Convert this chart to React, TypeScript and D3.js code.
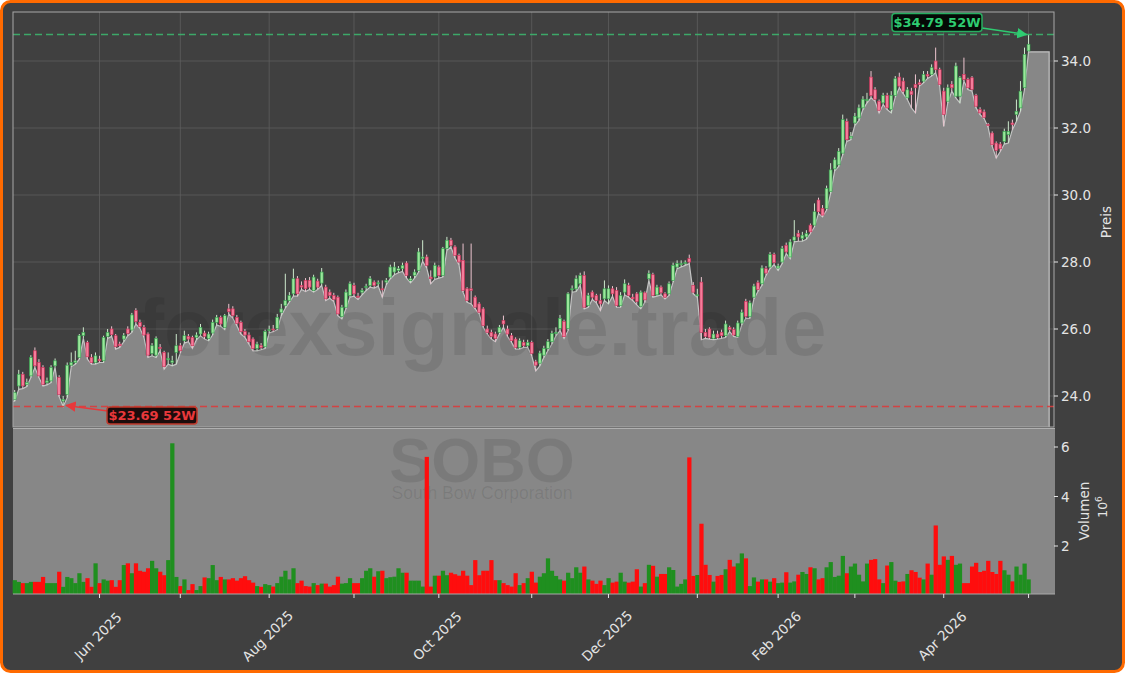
import React from 'react';
import * as d3 from 'd3';

// ---- data (trading-day index 0 = 1 May 2025) ----
const opens = [
  23.90, 24.30, 24.65, 24.35, 24.60, 25.35, 25.00, 24.85, 24.40, 24.45,
  24.90, 24.55, 23.85, 24.05, 24.92, 25.00, 25.15, 25.80, 25.60, 25.15,
  25.00, 25.10, 25.05, 25.78, 26.00, 25.80, 25.55, 25.70, 26.00, 25.97,
  26.55, 26.20, 26.05, 25.85, 25.27, 25.22, 25.45, 25.30, 25.08, 25.00,
  25.30, 25.50, 25.65, 25.78, 25.75, 25.75, 25.85, 25.88, 25.72, 25.88,
  26.20, 26.35, 26.05, 26.60, 26.60, 26.35, 26.20, 25.92, 25.82, 25.70,
  25.42, 25.50, 25.47, 25.95, 26.00, 26.02, 26.50, 26.70, 26.85, 27.05,
  27.50, 27.30, 27.45, 27.45, 27.15, 27.43, 27.37, 27.25, 27.10, 27.00,
  26.95, 26.37, 26.65, 27.00, 27.30, 26.98, 27.10, 27.25, 27.30, 27.40,
  27.35, 27.20, 27.40, 27.55, 27.70, 27.75, 27.80, 27.97, 27.45, 27.60,
  27.75, 28.10, 28.15, 27.55, 27.55, 27.85, 27.60, 28.40, 28.65, 28.45,
  28.20, 28.05, 27.20, 27.20, 26.95, 26.75, 26.60, 26.00, 25.90, 25.85,
  25.90, 26.25, 26.00, 25.80, 25.70, 25.45, 25.60, 25.50, 25.60, 25.02,
  24.98, 25.22, 25.42, 25.62, 25.88, 26.02, 26.22, 26.02, 27.18, 27.20,
  27.35, 27.60, 26.70, 27.10, 27.00, 26.85, 26.90, 26.90, 27.20, 27.15,
  26.70, 27.10, 27.30, 26.95, 27.05, 26.68, 27.08, 27.50, 27.62, 27.02,
  27.25, 27.05, 27.05, 27.45, 27.85, 27.92, 27.95, 28.10, 27.30, 27.00,
  27.40, 25.90, 26.00, 25.72, 25.85, 25.90, 25.80, 26.05, 25.98, 25.78,
  26.18, 26.82, 26.38, 26.95, 27.38, 27.35, 27.80, 27.85, 28.22, 27.82,
  28.00, 28.50, 28.15, 28.65, 28.85, 28.70, 28.75, 29.10, 29.10, 29.85,
  29.60, 29.60, 30.10, 30.78, 30.90, 31.25, 32.20, 31.70, 32.15, 32.30,
  32.60, 32.83, 33.52, 33.14, 32.80, 32.75, 32.97, 32.55, 32.97, 33.52,
  33.40, 32.90, 33.10, 33.30, 33.35, 33.40, 33.60, 33.60, 34.00, 33.74,
  33.10, 32.80, 33.30, 32.95, 32.95, 33.60, 33.45, 33.50, 32.97, 32.55,
  32.48, 32.10, 31.85, 31.55, 31.52, 31.60, 31.80, 32.15, 32.40, 32.60,
  33.20, 34.30,
];
const closes = [
  24.10, 24.65, 24.30, 24.40, 25.15, 24.90, 24.60, 24.35, 24.45, 24.85,
  25.05, 24.05, 23.90, 24.92, 25.00, 25.05, 25.80, 25.90, 25.17, 25.00,
  25.20, 25.05, 25.75, 25.90, 25.83, 25.47, 25.50, 25.80, 25.87, 26.42,
  26.22, 26.08, 25.82, 25.22, 25.50, 25.72, 25.42, 24.88, 25.12, 25.05,
  25.50, 25.35, 25.80, 25.70, 25.50, 25.82, 26.05, 25.78, 25.85, 26.20,
  26.35, 26.15, 26.40, 26.52, 26.40, 26.17, 25.92, 25.82, 25.62, 25.42,
  25.55, 25.45, 25.92, 25.98, 25.98, 26.35, 26.60, 26.85, 27.00, 27.50,
  27.05, 27.25, 27.20, 27.25, 27.55, 27.25, 27.70, 26.90, 27.00, 26.88,
  26.45, 26.65, 27.10, 27.35, 27.05, 26.95, 27.15, 27.27, 27.50, 27.30,
  27.38, 27.18, 27.45, 27.85, 27.85, 27.80, 27.90, 27.60, 27.50, 27.70,
  28.30, 28.15, 27.90, 27.50, 27.90, 27.60, 28.40, 28.65, 28.50, 28.20,
  28.00, 27.15, 26.85, 27.15, 26.65, 26.50, 26.10, 25.90, 25.78, 25.72,
  26.05, 26.15, 25.85, 25.65, 25.45, 25.65, 25.50, 25.60, 25.27, 24.92,
  25.28, 25.42, 25.62, 25.87, 25.90, 26.32, 25.77, 27.05, 27.20, 27.50,
  27.60, 26.65, 27.00, 26.95, 26.85, 26.75, 27.20, 27.20, 27.05, 26.70,
  27.00, 27.35, 27.00, 26.90, 26.82, 27.10, 26.87, 27.65, 27.00, 27.25,
  27.08, 26.95, 27.35, 27.90, 27.95, 27.95, 27.98, 28.00, 27.10, 27.02,
  25.90, 25.78, 25.75, 25.85, 25.75, 25.80, 26.15, 25.98, 25.82, 26.18,
  26.50, 26.38, 26.78, 27.28, 27.18, 27.82, 27.67, 28.22, 27.98, 27.88,
  28.40, 28.30, 28.60, 28.75, 28.75, 28.80, 28.85, 28.90, 29.50, 29.50,
  29.40, 30.20, 30.75, 31.05, 31.30, 32.25, 31.65, 31.75, 32.35, 32.60,
  32.86, 32.85, 32.97, 32.86, 32.53, 32.97, 32.60, 32.97, 33.47, 33.25,
  33.10, 33.14, 33.00, 33.20, 33.30, 33.60, 33.55, 33.80, 33.74, 33.30,
  32.40, 33.20, 33.20, 33.85, 33.50, 33.45, 33.20, 33.15, 32.65, 32.45,
  32.32, 32.08, 31.50, 31.33, 31.38, 31.90, 31.90, 32.10, 32.50, 33.10,
  34.20, 34.50,
];
const highs = [
  24.18, 24.78, 24.72, 24.52, 25.22, 25.45, 25.10, 24.92, 24.55, 24.92,
  25.12, 24.62, 24.00, 25.00, 25.30, 25.35, 25.85, 26.05, 25.65, 25.25,
  25.30, 25.20, 25.80, 26.00, 26.08, 25.85, 25.62, 25.88, 26.08, 26.48,
  26.62, 26.28, 26.12, 25.90, 25.58, 25.78, 25.55, 25.35, 25.30, 25.20,
  25.85, 25.58, 25.95, 25.85, 25.80, 25.90, 26.15, 25.95, 25.92, 26.28,
  26.42, 26.40, 26.45, 26.75, 26.68, 26.42, 26.25, 26.00, 25.90, 25.75,
  25.62, 25.58, 25.98, 26.10, 26.12, 26.45, 26.75, 27.65, 27.10, 27.80,
  27.58, 27.42, 27.52, 27.55, 27.62, 27.50, 27.82, 27.32, 27.18, 27.08,
  27.00, 26.72, 27.18, 27.42, 27.38, 27.08, 27.22, 27.35, 27.58, 27.45,
  27.45, 27.45, 27.52, 27.92, 28.00, 27.88, 27.98, 28.02, 27.58, 27.78,
  28.42, 28.65, 28.22, 27.75, 27.98, 27.90, 28.45, 28.75, 28.72, 28.50,
  28.25, 28.55, 27.25, 28.55, 27.00, 26.80, 26.65, 26.10, 25.98, 25.92,
  26.12, 26.40, 26.10, 25.88, 25.75, 25.72, 25.68, 25.68, 25.65, 25.08,
  25.35, 25.50, 25.70, 25.95, 26.05, 26.42, 26.28, 27.10, 27.30, 27.60,
  27.68, 27.72, 27.08, 27.15, 27.05, 27.05, 27.45, 27.30, 27.28, 27.25,
  27.10, 27.48, 27.38, 27.05, 27.10, 27.15, 27.12, 27.75, 27.68, 27.32,
  27.30, 27.10, 27.42, 27.98, 28.05, 28.05, 28.05, 28.22, 27.40, 27.20,
  27.55, 26.00, 26.05, 25.95, 25.95, 25.98, 26.25, 26.10, 26.05, 26.25,
  26.58, 26.90, 26.85, 27.35, 27.45, 27.90, 27.88, 28.30, 28.28, 27.95,
  28.48, 28.58, 28.68, 29.25, 28.95, 28.90, 28.95, 29.15, 29.75, 29.92,
  29.70, 30.28, 30.95, 31.12, 31.40, 32.40, 32.28, 31.88, 32.45, 32.70,
  32.95, 33.05, 33.70, 33.22, 32.85, 33.05, 33.05, 33.10, 33.55, 33.65,
  33.50, 33.22, 33.20, 33.60, 33.45, 33.70, 33.70, 33.90, 34.40, 33.80,
  33.20, 33.30, 33.40, 33.95, 33.55, 34.10, 33.50, 33.55, 33.02, 32.62,
  32.55, 32.15, 31.90, 31.60, 31.58, 31.98, 32.20, 32.25, 32.85, 33.40,
  34.40, 34.79,
];
const lows = [
  23.85, 24.20, 24.22, 24.28, 24.55, 24.85, 24.55, 24.30, 24.33, 24.40,
  24.85, 23.98, 23.69, 23.95, 24.88, 24.95, 25.10, 25.72, 25.10, 24.95,
  24.95, 25.00, 25.00, 25.72, 25.78, 25.40, 25.45, 25.62, 25.80, 25.90,
  26.15, 26.02, 25.75, 25.15, 25.20, 25.15, 25.35, 24.80, 24.95, 24.90,
  24.95, 25.28, 25.58, 25.62, 25.42, 25.68, 25.80, 25.70, 25.65, 25.82,
  26.12, 26.08, 25.98, 26.45, 26.32, 26.10, 25.85, 25.75, 25.55, 25.35,
  25.35, 25.38, 25.42, 25.88, 25.92, 25.98, 26.40, 26.62, 26.80, 26.98,
  26.98, 27.18, 27.12, 27.18, 27.10, 27.18, 27.30, 26.85, 26.92, 26.82,
  26.40, 26.30, 26.60, 26.95, 26.98, 26.88, 27.02, 27.15, 27.25, 27.22,
  27.28, 26.95, 27.32, 27.50, 27.62, 27.68, 27.72, 27.52, 27.38, 27.52,
  27.70, 28.02, 27.82, 27.35, 27.48, 27.52, 27.55, 28.35, 28.45, 28.12,
  27.92, 27.10, 26.80, 26.75, 26.60, 26.45, 26.05, 25.85, 25.70, 25.62,
  25.85, 26.05, 25.78, 25.60, 25.40, 25.40, 25.45, 25.45, 25.20, 24.75,
  24.90, 25.15, 25.35, 25.55, 25.80, 25.95, 25.72, 25.95, 27.10, 27.12,
  27.30, 26.60, 26.65, 26.88, 26.78, 26.55, 26.85, 26.75, 26.98, 26.65,
  26.65, 27.02, 26.95, 26.85, 26.72, 26.60, 26.80, 27.45, 26.95, 26.98,
  27.02, 26.90, 27.00, 27.40, 27.80, 27.85, 27.90, 27.95, 27.05, 26.95,
  25.68, 25.72, 25.70, 25.68, 25.70, 25.72, 25.75, 25.92, 25.78, 25.75,
  26.12, 26.32, 26.32, 26.90, 27.12, 27.30, 27.60, 27.80, 27.92, 27.75,
  27.95, 28.25, 28.10, 28.60, 28.62, 28.62, 28.68, 28.85, 29.05, 29.45,
  29.35, 29.55, 30.05, 30.72, 30.85, 31.20, 31.60, 31.65, 32.08, 32.22,
  32.55, 32.75, 32.90, 32.80, 32.45, 32.70, 32.55, 32.45, 32.92, 33.20,
  33.02, 32.85, 32.60, 32.45, 33.25, 33.35, 33.48, 33.55, 33.65, 33.25,
  32.05, 32.75, 33.10, 32.90, 32.75, 33.40, 33.15, 33.10, 32.60, 32.40,
  32.28, 32.02, 31.45, 31.10, 31.30, 31.52, 31.55, 31.95, 32.20, 32.50,
  33.15, 34.27,
];
// volume in millions of shares
const volumes = [
  0.62, 0.55, 0.50, 0.50, 0.55, 0.55, 0.55, 0.75, 0.50, 0.50,
  0.50, 0.96, 0.35, 0.75, 0.70, 0.50, 0.90, 0.55, 0.70, 0.35,
  1.30, 0.50, 0.65, 0.60, 0.62, 0.35, 0.62, 1.23, 1.30, 0.90,
  1.30, 1.00, 0.96, 1.10, 1.40, 1.10, 0.96, 0.82, 1.43, 6.15,
  0.75, 0.38, 0.65, 0.22, 0.46, 0.22, 0.38, 0.73, 0.70, 1.23,
  0.62, 0.75, 0.65, 0.65, 0.70, 0.60, 0.70, 0.78, 0.62, 0.52,
  0.38, 0.35, 0.46, 0.42, 0.36, 0.50, 0.76, 1.00, 0.65, 1.10,
  0.50, 0.60, 0.38, 0.36, 0.50, 0.42, 0.48, 0.48, 0.36, 0.42,
  0.76, 0.48, 0.50, 0.70, 0.50, 0.50, 0.70, 1.00, 1.10, 0.76,
  0.98, 1.00, 0.70, 0.74, 0.76, 1.10, 0.92, 0.92, 0.60, 0.60,
  0.60, 0.36, 5.60, 0.36, 0.80, 0.80, 1.00, 0.82, 0.92, 0.86,
  0.80, 1.00, 0.80, 0.42, 1.43, 0.82, 1.00, 1.00, 1.43, 0.62,
  0.62, 0.50, 0.42, 0.36, 0.90, 0.42, 0.50, 0.70, 0.96, 0.52,
  0.76, 0.90, 1.50, 1.00, 0.79, 0.65, 0.60, 0.92, 0.70, 1.14,
  0.92, 1.17, 0.65, 0.60, 0.47, 0.60, 0.42, 0.70, 0.52, 0.56,
  0.92, 0.56, 0.52, 0.56, 1.06, 0.36, 0.50, 1.24, 1.20, 0.76,
  0.87, 0.87, 1.14, 1.03, 0.36, 0.47, 0.65, 5.58, 0.79, 0.83,
  2.90, 1.24, 0.83, 0.56, 0.79, 0.83, 1.06, 1.44, 1.17, 1.30,
  1.70, 1.50, 0.38, 0.73, 0.56, 0.65, 0.65, 0.56, 0.70, 0.50,
  0.52, 0.94, 0.52, 0.57, 0.84, 0.95, 0.87, 1.14, 1.10, 0.65,
  0.70, 1.14, 1.35, 0.75, 0.80, 1.60, 0.90, 1.17, 1.29, 0.84,
  0.57, 1.29, 1.44, 1.47, 0.65, 0.50, 1.21, 1.35, 0.60, 0.55,
  0.57, 0.87, 1.02, 0.95, 0.72, 0.65, 1.29, 0.84, 2.83, 1.24,
  1.58, 1.44, 1.60, 1.24, 1.29, 0.50, 0.50, 1.17, 1.32, 0.95,
  1.00, 1.40, 0.95, 0.87, 1.40, 1.02, 0.84, 0.57, 1.17, 0.84,
  1.29, 0.65,
];

const monthTickIdx = [21, 41, 63, 84, 105, 128, 147, 169, 189, 208, 230, 251];
const monthLabels = ['Jun 2025', '', 'Aug 2025', '', 'Oct 2025', '', 'Dec 2025', '', 'Feb 2026', '', 'Apr 2026', ''];
const priceTicks = [24, 26, 28, 30, 32, 34];
const volumeTicks = [2, 4, 6];
const high52 = 34.79;
const low52 = 23.69;
const high52Idx = 251;
const low52Idx = 12;
const ticker = 'SOBO';
const companyName = 'South Bow Corporation';
const watermark = 'forexsignale.trade';

// ---- layout ----
const W = 1125, H = 673;
const PL = 13, PR = 1054, PT = 12, PB = 427;
const VT = 428, VB = 594;
const FONT = "'DejaVu Sans', sans-serif";

export default function App() {
  const N = closes.length;
  const x = d3.scaleLinear().domain([-0.42, 257.3]).range([PL, PR]);
  const yP = d3.scaleLinear().domain([24, 34]).range([396, 61]);
  const yV = d3.scaleLinear().domain([0, 6]).range([595.5, 447]);
  const step = x(1) - x(0);
  const bodyW = step * 0.72;

  // area outline following the lows, extended to the right
  const pts: [number, number][] = [];
  pts.push([x(-0.42), yP(lows[0])]);
  for (let i = 0; i < N; i++) pts.push([x(i), yP(lows[i])]);
  pts.push([x(N - 1 + 5.1), yP(lows[N - 1])]);
  const areaGen = d3.area<[number, number]>().x(d => d[0]).y0(PB).y1(d => d[1]);
  const lineGen = d3.line<[number, number]>().x(d => d[0]).y(d => d[1]);
  const areaPath = areaGen(pts) || '';
  const linePath = (lineGen(pts) || '') + `L${x(N - 1 + 5.1)},${PB}`;

  const green = '#9be69b', greenEdge = '#2f9e4a';
  const red = '#f57d9b', redEdge = '#cc2e56';

  const yHi = yP(high52), yLo = yP(low52);

  return (
    <svg width={W} height={H} style={{ position: 'absolute', left: 0, top: 0, background: '#fff' }}
      fontFamily={FONT}>
      <defs>
        <clipPath id="pclip"><rect x={PL} y={PT} width={PR - PL} height={PB - PT} /></clipPath>
        <marker id="arrG" viewBox="0 0 10 10" refX="9" refY="5" markerWidth="7" markerHeight="7" orient="auto">
          <path d="M0,0 L10,5 L0,10 z" fill="#2ecc71" />
        </marker>
        <marker id="arrR" viewBox="0 0 10 10" refX="9" refY="5" markerWidth="7" markerHeight="7" orient="auto">
          <path d="M0,0 L10,5 L0,10 z" fill="#e8383b" />
        </marker>
      </defs>
      <rect x={1.5} y={1.5} width={W - 3} height={H - 3} rx={9} fill="#404040" stroke="#ff6a00" strokeWidth={3} />

      {/* price panel grid */}
      <g stroke="#5e5e5e" strokeWidth={0.8}>
        {priceTicks.map(t => <line key={'hg' + t} x1={PL} x2={PR} y1={yP(t)} y2={yP(t)} />)}
        {monthTickIdx.map(t => <line key={'vg' + t} x1={x(t)} x2={x(t)} y1={PT} y2={PB} />)}
      </g>

      {/* area */}
      <g clipPath="url(#pclip)">
        <path d={areaPath} fill="#878787" />
        <path d={linePath} fill="none" stroke="#c4c4c4" strokeWidth={1.2} />
      </g>

      {/* volume panel */}
      <rect x={PL} y={VT} width={PR - PL + 1} height={VB - VT} fill="#878787" />
      <line x1={PL} x2={PR + 1} y1={VT + 0.5} y2={VT + 0.5} stroke="#b0b0b0" strokeWidth={1.2} />

      {/* watermarks */}
      <text x={482} y={355} textAnchor="middle" fontFamily="'Liberation Sans', Arial, sans-serif" fontWeight="bold"
        fontSize={80} fill="#000" fillOpacity={0.09}>{watermark}</text>
      <text x={482} y={482} textAnchor="middle" fontFamily="'Liberation Sans', Arial, sans-serif" fontWeight="bold"
        fontSize={63} fill="#000" fillOpacity={0.09}>{ticker}</text>
      <text x={482} y={499} textAnchor="middle" fontFamily="'Liberation Sans', Arial, sans-serif"
        fontSize={17.5} fill="#000" fillOpacity={0.09}>{companyName}</text>

      {/* volume bars */}
      <g>
        {volumes.map((v, i) => (
          <rect key={'v' + i} x={x(i) - step / 2} width={step + 0.2} y={yV(v)} height={VB - yV(v)}
            fill={closes[i] >= opens[i] ? '#1f8f1f' : '#ff0d0d'} />
        ))}
      </g>

      {/* candles */}
      <g clipPath="url(#pclip)">
        {closes.map((c, i) => {
          const o = opens[i];
          const up = c >= o;
          const top = yP(Math.max(o, c));
          const bot = yP(Math.min(o, c));
          return (
            <g key={'c' + i}>
              <line x1={x(i)} x2={x(i)} y1={yP(highs[i])} y2={yP(lows[i])}
                stroke={up ? '#cce8cc' : '#ecc4cf'} strokeWidth={1} />
              <rect x={x(i) - bodyW / 2} width={bodyW} y={top} height={Math.max(1, bot - top)}
                fill={up ? green : red} stroke={up ? greenEdge : redEdge} strokeWidth={0.6} />
            </g>
          );
        })}
      </g>

      {/* 52W lines */}
      <line x1={PL} x2={PR} y1={yHi} y2={yHi} stroke="#3cb46e" strokeWidth={1.5} strokeDasharray="7,4" opacity={0.9} />
      <line x1={PL} x2={PR} y1={yLo} y2={yLo} stroke="#dc3c3c" strokeWidth={1.5} strokeDasharray="7,4" opacity={0.9} />

      {/* price frame */}
      <rect x={PL} y={PT} width={PR - PL} height={PB - PT} fill="none" stroke="#a8a8a8" strokeWidth={1} />

      {/* annotations */}
      <line x1={982} y1={28} x2={x(high52Idx) - 2} y2={yHi} stroke="#2ecc71" strokeWidth={1.5} markerEnd="url(#arrG)" />
      <rect x={892} y={13.5} width={90} height={18} rx={3} fill="#050a06" stroke="#27ae60" strokeWidth={1.5} />
      <text x={937} y={27} textAnchor="middle" fontSize={13} fontWeight="bold" fill="#2ecc71">${high52.toFixed(2)} 52W</text>

      <line x1={108} y1={411} x2={x(low52Idx) + 3} y2={yLo - 1} stroke="#e8383b" strokeWidth={1.5} markerEnd="url(#arrR)" />
      <rect x={107} y={407} width={90} height={17} rx={3} fill="#1c0c0c" stroke="#c0392b" strokeWidth={1.5} />
      <text x={152} y={420} textAnchor="middle" fontSize={13} fontWeight="bold" fill="#e8383b">${low52.toFixed(2)} 52W</text>

      {/* right price axis */}
      <g fill="#e4e4e4" fontSize={13.5}>
        {priceTicks.map(t => (
          <g key={'pt' + t}>
            <line x1={PR} x2={PR + 4} y1={yP(t)} y2={yP(t)} stroke="#e4e4e4" />
            <text x={PR + 7} y={yP(t) + 5}>{t.toFixed(1)}</text>
          </g>
        ))}
        {volumeTicks.map(t => (
          <g key={'vt' + t}>
            <line x1={PR} x2={PR + 4} y1={yV(t)} y2={yV(t)} stroke="#e4e4e4" />
            <text x={PR + 7} y={yV(t) + 5}>{t}</text>
          </g>
        ))}
        <text transform="translate(1111,222) rotate(-90)" textAnchor="middle">Preis</text>
        <text transform="translate(1089,511) rotate(-90)" textAnchor="middle">Volumen</text>
        <text transform="translate(1107,507) rotate(-90)" textAnchor="middle" fontSize={12.5}>
          10<tspan dy={-5} fontSize={9}>6</tspan>
        </text>
      </g>

      {/* x axis */}
      <line x1={PL} x2={PR + 1} y1={VB} y2={VB} stroke="#a8a8a8" />
      <g fill="#e4e4e4" fontSize={13.5}>
        {monthTickIdx.map((t, k) => (
          <g key={'xt' + t}>
            <line x1={x(t)} x2={x(t)} y1={VB} y2={VB + 4} stroke="#e4e4e4" />
            {monthLabels[k] && (
              <text transform={`translate(${x(t) - 1.5},636) rotate(-45)`} textAnchor="middle" dy="0.35em">{monthLabels[k]}</text>
            )}
          </g>
        ))}
      </g>
    </svg>
  );
}
